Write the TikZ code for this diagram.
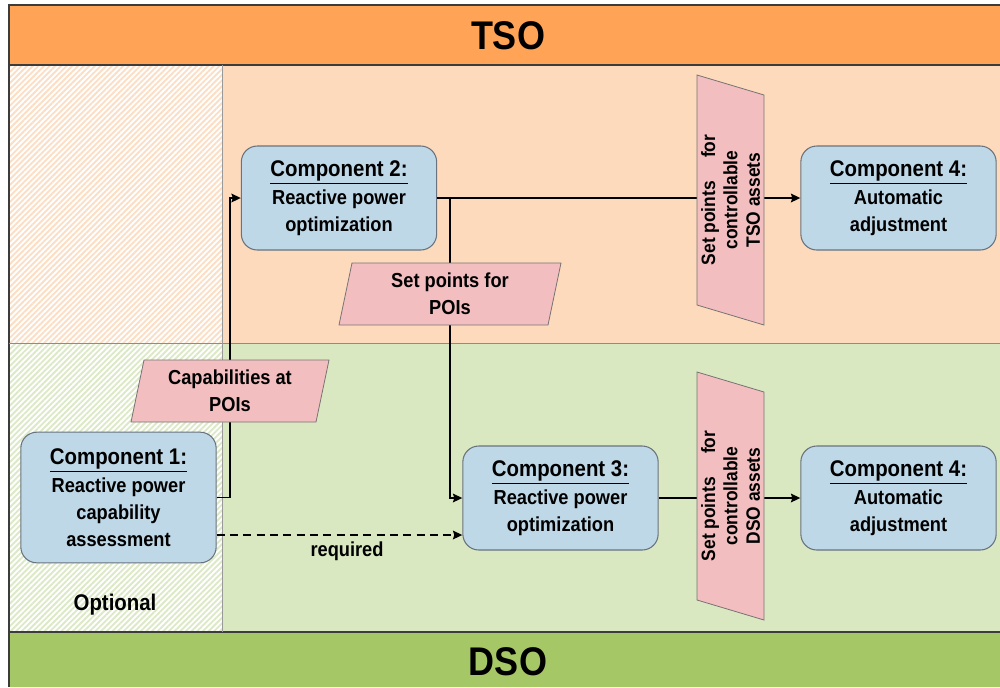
\documentclass[tikz,border=0pt]{standalone}
\usepackage{fontspec}
\setmainfont[FakeStretch=0.9]{Liberation Sans}
\usetikzlibrary{arrows.meta,patterns.meta}
\definecolor{tsobar}{RGB}{255,163,87}
\definecolor{tsoreg}{RGB}{253,218,188}
\definecolor{tsohatch}{RGB}{252,222,196}
\definecolor{dsobar}{RGB}{166,199,102}
\definecolor{dsoreg}{RGB}{218,232,194}
\definecolor{dsohatch}{RGB}{220,233,198}
\definecolor{compblue}{RGB}{190,216,232}
\definecolor{compborder}{RGB}{105,115,125}
\definecolor{pinkfill}{RGB}{242,190,192}
\definecolor{pinkborder}{RGB}{120,115,115}
\definecolor{frameline}{RGB}{60,60,60}
\newcommand\bodyf{\fontsize{15.2}{20.2}\selectfont\bfseries}
\newcommand\titlef{\fontsize{17}{21}\selectfont\bfseries}
\newcommand\vertf{\fontsize{14.5}{16.8}\selectfont\bfseries}
\newcommand\bigf{\fontsize{30}{34}\selectfont\bfseries}
\begin{document}
\begin{tikzpicture}[x=0.75pt,y=-0.75pt,
  comp/.style={draw=compborder, fill=compblue, rounded corners=12pt, line width=0.8pt,
    align=center, font=\bodyf, inner sep=0pt, minimum width=146.5pt, minimum height=78pt},
  parbox/.style={draw=pinkborder, fill=pinkfill, line width=0.6pt},
  ptext/.style={align=center, font=\bodyf, inner sep=0pt},
  vtext/.style={align=center, font=\vertf, inner sep=0pt, rotate=90},
  conn/.style={draw=black, line width=1.2pt, -{Stealth[length=7pt,width=6.5pt,inset=1pt]}},
  bandtext/.style={font=\bigf, inner sep=0pt},
  lbl/.style={font=\bodyf, inner sep=0pt}
]
\useasboundingbox (0,0) rectangle (1000,687);
% backgrounds
\fill[white] (0,0) rectangle (1000,687);
\fill[tsobar] (9,5) rectangle (1000,65);
\fill[tsoreg] (9,65) rectangle (1000,343);
\fill[dsoreg] (9,343) rectangle (1000,632);
\fill[dsobar] (9,632) rectangle (1000,687);
% hatched optional column
\fill[white] (9,65) rectangle (222,632);
\fill[pattern={Lines[angle=45,distance=3pt,line width=1.4pt]}, pattern color=tsohatch] (9,65) rectangle (222,343);
\fill[pattern={Lines[angle=45,distance=3pt,line width=1.4pt]}, pattern color=dsohatch] (9,343) rectangle (222,632);
% frame lines
\draw[frameline, line width=0.9pt] (9,687) -- (9,5) -- (1000,5);
\draw[frameline, line width=0.9pt] (9,65) -- (1000,65);
\draw[frameline, line width=0.9pt] (9,632) -- (1000,632);
\draw[black!45, line width=0.5pt] (9,343) -- (1000,343);
\draw[black!40, line width=0.7pt] (222,65) -- (222,632);
% band titles
\node[bandtext] (tso) at (508,36) {TSO};
\node[bandtext] (dso) at (508,662) {DSO};
\node[font=\titlef, inner sep=0pt] (opt) at (115,605) {Optional};
% components
\node[comp] (c2) at (339,198) {{\titlef\underline{Component 2:}}\\[1pt]Reactive power\\optimization};
\node[comp] (c4a) at (898.5,198) {{\titlef\underline{Component 4:}}\\[1pt]Automatic\\adjustment};
\node[comp, minimum height=98pt] (c1) at (118.5,497.5) {{\titlef\underline{Component 1:}}\\[1pt]Reactive power\\capability\\assessment};
\node[comp] (c3) at (560.5,498) {{\titlef\underline{Component 3:}}\\[1pt]Reactive power\\optimization};
\node[comp] (c4b) at (898.5,498) {{\titlef\underline{Component 4:}}\\[1pt]Automatic\\adjustment};
% connectors
\coordinate (dy) at (0,535);
\draw[conn] (c2.east) -- (c4a.west);
\draw[conn] (c2.east) -- ++(13,0) |- (c3.west);
\draw[conn] (c1.east) -- ++(13,0) |- (c2.west);
\draw[conn, dash pattern=on 6pt off 4pt] (c1.east |- dy) -- (c3.west |- dy);
\draw[conn] (c3.east) -- (c4b.west);
\node[lbl] (req) at (347,551) {required};
% data parallelograms
\coordinate (pa) at (450,294);
\draw[parbox] (pa) ++(-111,31) -- ++(209,0) -- ++(13,-62) -- ++(-209,0) -- cycle;
\node[ptext] (pat) at (pa) {Set points for\\POIs};
\coordinate (pb) at (230,391);
\draw[parbox] (pb) ++(-99,31) -- ++(185,0) -- ++(13,-62) -- ++(-185,0) -- cycle;
\node[ptext] (pbt) at (pb) {Capabilities at\\POIs};
\coordinate (pc) at (730.5,200);
\draw[parbox] (pc) ++(-33.5,-125) -- ++(67,20) -- ++(0,230) -- ++(-67,-20) -- cycle;
\node[vtext] (pct) at (pc) {Set points\hspace{1.2em}for\\controllable\\TSO assets};
\coordinate (pd) at (730.5,496);
\draw[parbox] (pd) ++(-33.5,-124) -- ++(67,20) -- ++(0,228) -- ++(-67,-20) -- cycle;
\node[vtext] (pdt) at (pd) {Set points\hspace{1.2em}for\\controllable\\DSO assets};
\end{tikzpicture}
\end{document}
